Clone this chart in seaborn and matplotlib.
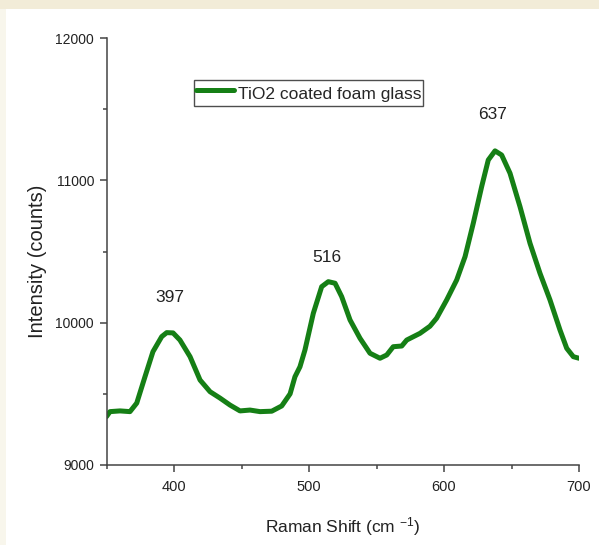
import matplotlib
matplotlib.use("Agg")
import matplotlib.pyplot as plt
import seaborn as sns
import pandas as pd
from matplotlib.patches import Rectangle
from matplotlib.ticker import MultipleLocator

# Data
raman_shift = [350, 352.6, 360, 367.4, 372.4, 378.5, 384.4, 390.9, 394.6, 399.3,
               404.4, 411.9, 419.3, 426.7, 434.1, 441.5, 448.9, 456.3, 463.7, 472.4,
               479.8, 486.0, 489.6, 493.3, 497, 503.2, 509.4, 514.3, 519.3, 524.2,
               530.4, 537.8, 545.2, 552.6, 557.6, 562.4, 568.7, 572.4, 582.2, 589.6,
               594.5, 602, 609.4, 615.6, 621.7, 627.9, 632.8, 637.8, 642.7, 648.9,
               656.3, 663.7, 671.1, 678.5, 685.9, 690.9, 695.8, 700]
intensity = [9340, 9375, 9380, 9375, 9435, 9620, 9796, 9902, 9930, 9928,
             9878, 9761, 9597, 9515, 9470, 9421, 9380, 9386, 9375, 9378,
             9415, 9500, 9620, 9690, 9808, 10066, 10253, 10288, 10277, 10183,
             10019, 9890, 9785, 9750, 9773, 9831, 9836, 9878, 9925, 9975,
             10031, 10160, 10300, 10464, 10699, 10956, 11143, 11207, 11178, 11050,
             10815, 10558, 10347, 10160, 9949, 9820, 9761, 9750]
series_name = "TiO2 coated foam glass"
peak_labels = ["397", "516", "637"]
peak_label_x = [397, 513, 636]
peak_label_y = [10174, 10455, 11460]
x_ticks = [400, 500, 600, 700]
y_ticks = [9000, 10000, 11000, 12000]

df = pd.DataFrame({"Raman Shift": raman_shift, "Intensity": intensity,
                   "series": series_name})

sns.set_style("ticks")
plt.rcParams["font.family"] = ["Liberation Sans", "DejaVu Sans"]
plt.rcParams["mathtext.fontset"] = "custom"
plt.rcParams["mathtext.rm"] = "Liberation Sans"
plt.rcParams["mathtext.it"] = "Liberation Sans"

fig = plt.figure(figsize=(5.99, 5.45), dpi=100)
fig.patch.set_facecolor("#f8f6ec")
fig.patches.append(Rectangle((0, 1 - 9 / 545), 1, 9 / 545, transform=fig.transFigure,
                             facecolor="#f2ecd8", edgecolor="none", zorder=-10))
fig.patches.append(Rectangle((6 / 599, 0), 1, 1 - 9 / 545, transform=fig.transFigure,
                             facecolor="white", edgecolor="none", zorder=-10))
ax = fig.add_axes([106.5 / 599, 80 / 545, 472.5 / 599, 427 / 545])
ax.set_facecolor("white")

sns.lineplot(data=df, x="Raman Shift", y="Intensity", hue="series",
             palette=["#157f15"], linewidth=3.6, ax=ax)

ax.set_xlim(350, 700)
ax.set_ylim(9000, 12000)
ax.set_xticks(x_ticks)
ax.set_yticks(y_ticks)
ax.xaxis.set_minor_locator(MultipleLocator(50))
ax.yaxis.set_minor_locator(MultipleLocator(500))
ax.tick_params(which="major", direction="out", length=5, width=1.1,
               color="#444444", labelsize=10, labelcolor="#222222", pad=4)
ax.tick_params(axis="x", which="major", labelsize=10.5, pad=6)
ax.tick_params(which="minor", direction="out", length=3, width=1.1, color="#444444")
for s in ["top", "right"]:
    ax.spines[s].set_visible(False)
for s in ["left", "bottom"]:
    ax.spines[s].set_color("#444444")
    ax.spines[s].set_linewidth(1.1)

ax.set_xlabel(r"Raman Shift (cm $^{-1}$)", fontsize=12.5, color="#222222", labelpad=15)
ax.set_ylabel("Intensity (counts)", fontsize=14.5, color="#222222")
ax.yaxis.label.set_va("center")
ax.yaxis.set_label_coords(-0.147, 0.478)

for lab, lx, ly in zip(peak_labels, peak_label_x, peak_label_y):
    ax.text(lx, ly, lab, fontsize=12.5, ha="center", va="center", color="#222222")

leg = ax.legend(loc="upper left", bbox_to_anchor=(0.1855, 0.902), frameon=True,
                fancybox=False, fontsize=12.5, handlelength=2.2, borderpad=0.1,
                handleheight=1.65, handletextpad=0.2, borderaxespad=0)
leg.get_frame().set_edgecolor("#222222")
leg.get_frame().set_linewidth(1.0)
for line in leg.get_lines():
    line.set_linewidth(3.6)

fig.savefig("out.png", dpi=100, facecolor=fig.get_facecolor())
